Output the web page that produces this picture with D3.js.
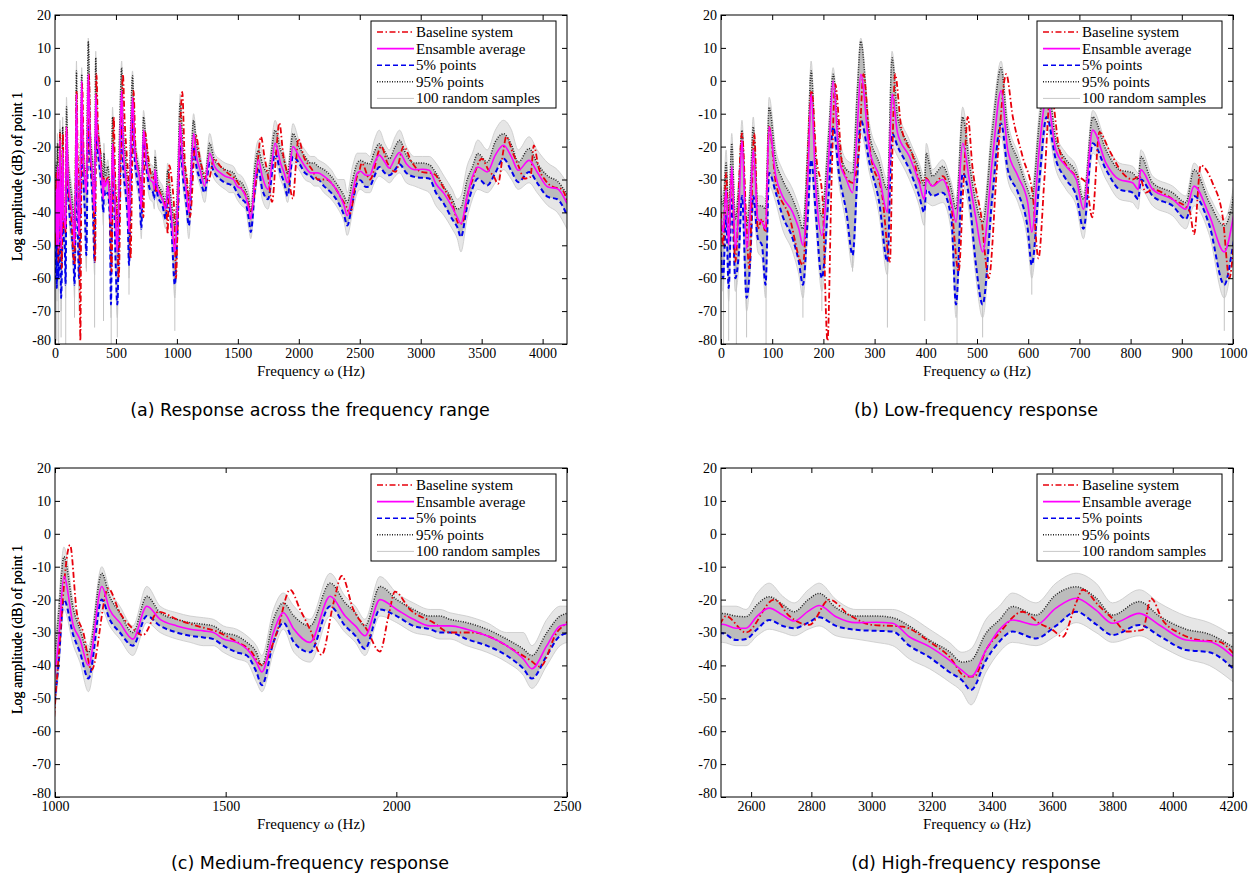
<!DOCTYPE html>
<html>
<head>
<meta charset="utf-8">
<script src="https://cdn.jsdelivr.net/npm/d3@7"></script>
<style>
  body { margin: 0; background: #fff; }
  svg { display: block; }
</style>
</head>
<body>
<div id="chart"></div>
<script>
// frequency grid shared by the ensemble statistics (Hz)
const statFreq = [
  0, 4, 10, 15, 21, 28, 35, 41, 50, 57,
  63, 72, 80, 87, 94, 107, 120, 140, 152, 160,
  170, 176, 185, 197, 210, 219, 231, 245, 257, 266,
  273, 290, 309, 325, 334, 345, 368, 387, 397, 401,
  413, 433, 450, 459, 472, 485, 498, 511, 530, 547,
  560, 580, 599, 607, 622, 636, 654, 674, 694, 708,
  726, 752, 778, 804, 815, 820, 843, 882, 908, 924,
  954, 983, 1000, 1010, 1026, 1054, 1073, 1098, 1137, 1160,
  1190, 1228, 1269, 1308, 1357, 1396, 1435, 1464, 1493, 1532,
  1562, 1590, 1606, 1640, 1669, 1700, 1747, 1806, 1850, 1880,
  1908, 1952, 2001, 2050, 2099, 2128, 2157, 2206, 2265, 2323,
  2372, 2397, 2441, 2480, 2505, 2550, 2583, 2620, 2660, 2705,
  2743, 2790, 2826, 2882, 2948, 3015, 3070, 3125, 3192, 3258,
  3300, 3330, 3380, 3424, 3468, 3546, 3612, 3679, 3745, 3800,
  3889, 3955, 4044, 4121, 4200
];

// ensemble average (dB)
const meanDb = [
  -42, -46, -33, -50, -26, -51, -38, -18, -51, -40,
  -21, -42, -43, -45, -14, -29, -35, -40, -45, -50,
  -28, -4, -32, -47, -24, 0, -24, -30, -34, -15,
  2, -21, -29, -40, -4, -16, -23, -31, -36, -30,
  -32, -30, -37, -43, -19, -30, -42, -52, -24, -3,
  -21, -29, -37, -46, -20, -5, -21, -26, -30, -39,
  -15, -25, -30, -31, -33, -27, -33, -36, -39, -32,
  -41, -52, -42, -33, -13, -28, -32, -40, -16, -23,
  -27, -32, -22, -26, -28, -29, -29.5, -30, -32, -33,
  -35, -39, -42, -30, -24, -29, -33, -19, -25, -28,
  -31, -20, -23, -26, -28, -28, -28, -29, -31, -34,
  -38, -41, -34, -28, -27.5, -28.7, -28.7, -25, -22.6, -24.7,
  -26.5, -23.5, -21.8, -25.2, -27, -26.9, -27.2, -31.3, -34.3, -38.4,
  -41.5, -43.4, -35.3, -29.2, -26.2, -27.7, -22.6, -19.6, -23.2, -27.2,
  -24.2, -27.7, -32.3, -32.8, -37.3
];

// 5% points (dB)
const p5Db = [
  -52, -60, -41, -63, -36, -60, -52, -35, -66, -55,
  -35, -48, -50, -62, -28, -34, -41, -48, -55, -62,
  -40, -24, -40, -60, -35, -14, -29, -40, -53, -30,
  -12, -25, -37, -55, -16, -20, -27, -35, -40, -33,
  -35, -34, -42, -68, -28, -36, -56, -68, -35, -13,
  -27, -34, -45, -56, -30, -11, -24, -30, -35, -45,
  -19, -27, -33, -34, -36, -30, -35, -38, -42, -35,
  -44, -62, -50, -40, -20, -31, -36, -44, -20, -26,
  -30, -34, -25, -28, -30, -31, -31.5, -32, -34, -36,
  -37, -42, -46, -33, -27, -33, -36, -22, -28, -31,
  -35, -23, -25, -28, -29, -30, -30, -32, -34, -37,
  -41, -44, -37, -31, -30.2, -32.3, -32, -29, -26.2, -28,
  -28.7, -27, -25.4, -28, -29.2, -29.5, -29.7, -34, -37.5, -42,
  -44.5, -47.5, -38.4, -32.8, -29.7, -31.8, -28, -23.7, -27.5, -30.8,
  -27.7, -31, -35.3, -36, -40.9
];

// 95% points (dB)
const p95Db = [
  -35, -38, -25, -40, -19, -42, -31, -15, -44, -33,
  -14, -38, -38, -39, -8, -24, -30, -36, -41, -45,
  -18, 3, -25, -41, -17, 2, -20, -27, -28, -4,
  12, -16, -25, -33, 7, -11, -20, -27, -32, -22,
  -29, -26, -33, -39, -11, -25, -37, -43, -15, 4,
  -15, -24, -33, -36, -12, 1.5, -18, -24, -28, -36,
  -11, -21, -27, -28, -30, -23, -31, -34, -37, -27,
  -37, -44, -36, -25, -7, -23, -29, -36, -12, -19,
  -24, -30, -19, -24, -26, -27, -27.5, -28, -30, -31,
  -33, -36, -40, -26, -21, -25, -28, -15, -21, -24,
  -28, -16, -20, -23, -25, -25, -26, -27, -29, -32,
  -35, -37, -30, -25, -24.2, -25, -25.2, -21.5, -19.1, -21.5,
  -23.7, -20, -18.1, -22.5, -25, -25, -25.5, -28, -32.3, -35.8,
  -39, -38.5, -30.2, -26.2, -22.1, -24.7, -18.5, -16.1, -19.5, -24.7,
  -20.6, -25, -29, -30.5, -34.5
];

// highest and lowest of the 100 random samples on the same grid (dB)
const sampleHighDb = [
  -32, -35, -21, -37, -16, -39, -28, -12, -41, -30,
  -11, -35, -35, -36, -5, -21, -27, -33, -38, -42,
  -15, 6, -22, -38, -14, 4, -17, -24, -25, -1,
  13, -13, -22, -30, 9, -8, -18, -25, -29, -19,
  -27, -24, -31, -36, -8, -22, -34, -40, -12, 6,
  -12, -22, -31, -33, -9, 3, -16, -22, -26, -34,
  -9, -19, -25, -26, -28, -21, -29, -32, -35, -25,
  -35, -42, -33, -22, -4, -21, -27, -34, -10, -17,
  -22, -28, -16, -22, -24, -25, -25.5, -26, -28, -29,
  -31, -34, -37, -23, -18, -22, -26, -12, -19, -22,
  -26, -13, -18, -21, -23, -23, -24, -25, -27, -30,
  -30, -34, -26, -22, -22, -22, -23, -18, -15, -19,
  -21, -17, -15, -20, -23, -23, -23, -25, -29, -33,
  -36, -35, -26, -22, -18, -21, -15, -12, -15, -21,
  -17, -21, -25, -27, -31
];
const sampleLowDb = [
  -56, -64, -45, -67, -40, -64, -56, -39, -70, -59,
  -39, -52, -54, -66, -32, -37, -45, -52, -59, -66,
  -44, -28, -44, -64, -39, -18, -32, -44, -57, -34,
  -16, -28, -41, -59, -20, -23, -30, -38, -44, -37,
  -38, -37, -46, -72, -32, -40, -60, -72, -39, -17,
  -30, -37, -49, -60, -34, -14, -27, -33, -38, -48,
  -22, -30, -36, -37, -39, -33, -38, -41, -45, -38,
  -47, -66, -53, -43, -23, -34, -39, -48, -23, -28,
  -32, -37, -27, -30, -32, -33, -34, -34, -36, -38,
  -39, -45, -48, -36, -29, -36, -39, -25, -30, -33,
  -37, -25, -27, -30, -31, -32, -32, -34, -36, -39,
  -43, -47, -40, -34, -33, -34, -34, -31, -29, -30,
  -31, -29, -28, -31, -32, -33, -34, -38, -41, -45,
  -48, -52, -42, -36, -33, -34, -31, -27, -30, -33,
  -31, -34, -38, -40, -45
];

// thin downward sample spikes at the resonance dips: [Hz, from dB, to dB]
const sampleSpikes = [
  [5, -56, -80], [15, -62, -79], [30, -58, -80], [50, -64, -78], [88, -58, -80],
  [160, -60, -72], [197, -58, -70], [257, -50, -58], [325, -52, -75], [398, -40, -73],
  [461, -62, -80], [511, -64, -78], [607, -56, -65], [983, -60, -76]
];

// baseline system (Hz, dB)
const baseFreq = [
  0, 4, 10, 15, 21, 28, 41, 50, 55, 65,
  72, 80, 87, 94, 107, 133, 160, 177, 186, 198,
  208, 216, 223, 238, 257, 270, 278, 292, 315, 330,
  335, 340, 352, 375, 390, 400, 413, 433, 450, 464,
  474, 482, 491, 508, 523, 540, 557, 570, 589, 609,
  620, 632, 644, 661, 687, 713, 725, 739, 758, 784,
  804, 817, 830, 843, 882, 915, 924, 937, 960, 980,
  993, 1003, 1044, 1064, 1083, 1107, 1156, 1190, 1230, 1257,
  1303, 1357, 1415, 1474, 1532, 1571, 1606, 1650, 1689, 1718,
  1747, 1781, 1816, 1840, 1874, 1913, 1952, 1977, 1996, 2040,
  2109, 2157, 2226, 2284, 2343, 2392, 2421, 2470, 2499, 2516,
  2583, 2677, 2727, 2793, 2860, 2926, 3004, 3103, 3192, 3258,
  3313, 3341, 3380, 3424, 3501, 3557, 3601, 3634, 3679, 3701,
  3756, 3811, 3845, 3900, 3928, 3966, 4022, 4088, 4154, 4200
];
const baseDb = [
  -40, -50, -28, -48, -28, -55, -16, -45, -57, -16,
  -45, -42, -46, -14, -31, -41, -56, -3, -23, -35,
  -79, -30, -1, -27, -31, -20, 2, -22, -35, -55,
  -20, 2, -14, -23, -31, -29.5, -32, -29, -38, -58,
  -30, -11, -26, -41, -60, -24, 2, -11, -23, -35,
  -54, -29, -3, -21, -28, -31, -41.5, -15.6, -21, -28,
  -30, -29, -34, -33, -36, -39.5, -46.6, -25.7, -31, -41.5,
  -60, -47.5, -3.4, -24, -30, -41.4, -16.6, -24, -29, -30.8,
  -23.7, -26, -28, -29.7, -32.8, -35.3, -39.9, -30, -17, -23,
  -29, -36.8, -21, -12.8, -23, -29, -35.8, -25, -17.6, -23,
  -27, -30, -30, -31.8, -35.3, -38.4, -40.4, -30, -27, -25,
  -30, -20, -25, -27.7, -20, -24.7, -27.7, -28.2, -32.8, -37.3,
  -43.4, -43.4, -35.3, -30.2, -23.7, -27.2, -29.2, -31.3, -21, -17,
  -22, -26.7, -29.7, -29.2, -19.6, -26.2, -30.2, -32.3, -32.8, -36.3
];

const yTicks = [20, 10, 0, -10, -20, -30, -40, -50, -60, -70, -80];
const legendLabels = ["Baseline system", "Ensamble average", "5% points", "95% points", "100 random samples"];

const panels = [
  { left: 55,  top: 15,  domain: [0, 4200],    ticks: [0, 500, 1000, 1500, 2000, 2500, 3000, 3500, 4000],
    caption: "(a) Response across the frequency range" },
  { left: 721, top: 15,  domain: [0, 1000],    ticks: [0, 100, 200, 300, 400, 500, 600, 700, 800, 900, 1000],
    caption: "(b) Low-frequency response" },
  { left: 55,  top: 468, domain: [1000, 2500], ticks: [1000, 1500, 2000, 2500],
    caption: "(c) Medium-frequency response" },
  { left: 721, top: 468, domain: [2500, 4200], ticks: [2600, 2800, 3000, 3200, 3400, 3600, 3800, 4000, 4200],
    caption: "(d) High-frequency response" }
];

const W = 1258, H = 876;
const pw = 512, ph = 329;
const serif = "'Liberation Serif', 'Times New Roman', serif";

const svg = d3.select("#chart").append("svg")
  .attr("width", W)
  .attr("height", H);

const stats = statFreq.map((f, i) => ({
  f: f, mean: meanDb[i], p5: p5Db[i], p95: p95Db[i], hi: sampleHighDb[i], lo: sampleLowDb[i]
}));
const base = baseFreq.map((f, i) => ({ f: f, v: baseDb[i] }));

// line styles, same order as the legend
const styles = [
  { color: "#e8000b", width: 1.8, dash: "6,2.5,1.5,2.5" },
  { color: "#ff00ff", width: 1.6, dash: null },
  { color: "#0000ee", width: 2,   dash: "5,3" },
  { color: "#222222", width: 1.5, dash: "1,1.5" },
  { color: "#c8c8c8", width: 0.8, dash: null }
];

panels.forEach(function(p, k) {

  var x = d3.scaleLinear().domain(p.domain).range([0, pw]);
  var y = d3.scaleLinear().domain([-80, 20]).range([ph, 0]);

  var g = svg.append("g").attr("transform", "translate(" + p.left + "," + p.top + ")");

  g.append("clipPath").attr("id", "clip" + k)
    .append("rect").attr("width", pw).attr("height", ph);

  var plot = g.append("g").attr("clip-path", "url(#clip" + k + ")");

  // spread of the random samples: faint outer region, darker 5-95% band
  plot.append("path")
    .datum(stats)
    .attr("fill", "#e6e6e6")
    .attr("d", d3.area().curve(d3.curveMonotoneX)
      .x(d => x(d.f)).y0(d => y(d.lo)).y1(d => y(d.hi)));

  plot.append("path")
    .datum(stats)
    .attr("fill", "#bcbcbc")
    .attr("d", d3.area().curve(d3.curveMonotoneX)
      .x(d => x(d.f)).y0(d => y(d.p5)).y1(d => y(d.p95)));

  ["hi", "lo"].forEach(function(key) {
    plot.append("path")
      .datum(stats)
      .attr("fill", "none")
      .attr("stroke", styles[4].color)
      .attr("stroke-width", styles[4].width)
      .attr("d", d3.line().curve(d3.curveMonotoneX).x(d => x(d.f)).y(d => y(d[key])));
  });

  plot.selectAll("line.spike")
    .data(sampleSpikes)
    .enter()
    .append("line")
    .attr("class", "spike")
    .attr("x1", d => x(d[0])).attr("x2", d => x(d[0]))
    .attr("y1", d => y(d[1])).attr("y2", d => y(d[2]))
    .attr("stroke", "#c4c4c4")
    .attr("stroke-width", 1);

  function drawLine(data, acc, st) {
    plot.append("path")
      .datum(data)
      .attr("fill", "none")
      .attr("stroke", st.color)
      .attr("stroke-width", st.width)
      .attr("stroke-dasharray", st.dash)
      .attr("stroke-linejoin", "round")
      .attr("d", d3.line().curve(d3.curveMonotoneX).x(d => x(d.f)).y(acc));
  }

  drawLine(stats, d => y(d.p95), styles[3]);
  drawLine(stats, d => y(d.p5), styles[2]);
  drawLine(base, d => y(d.v), styles[0]);
  drawLine(stats, d => y(d.mean), styles[1]);

  // axes, matlab style ticks pointing inwards on all four sides
  var fmt = d => String(d);
  g.append("g").attr("transform", "translate(0," + ph + ")")
    .call(d3.axisBottom(x).tickValues(p.ticks).tickFormat(fmt).tickSizeInner(-5).tickSizeOuter(0).tickPadding(4));
  g.append("g")
    .call(d3.axisTop(x).tickValues(p.ticks).tickFormat("").tickSizeInner(-5).tickSizeOuter(0));
  var yAxis = g.append("g")
    .call(d3.axisLeft(y).tickValues(yTicks).tickFormat(fmt).tickSizeInner(-5).tickSizeOuter(0).tickPadding(4));
  g.append("g").attr("transform", "translate(" + pw + ",0)")
    .call(d3.axisRight(y).tickValues(yTicks).tickFormat("").tickSizeInner(-5).tickSizeOuter(0));

  g.selectAll(".domain").remove();
  g.selectAll(".tick line").attr("stroke", "#000");
  g.selectAll(".tick text")
    .attr("font-family", serif)
    .attr("font-size", "14px")
    .attr("fill", "#000");
  // lift the lowest y label a little so it clears the first x label
  yAxis.selectAll(".tick text").filter(d => d == -80).attr("dy", "0.05em");

  g.append("rect")
    .attr("width", pw).attr("height", ph)
    .attr("fill", "none").attr("stroke", "#000").attr("stroke-width", 1);

  // axis labels
  g.append("text")
    .attr("x", pw / 2).attr("y", ph + 32)
    .attr("text-anchor", "middle")
    .attr("font-family", serif).attr("font-size", "15px")
    .text("Frequency \u03C9 (Hz)");

  g.append("text")
    .attr("transform", "translate(" + (-p.left + 22) + "," + (ph / 2 - 3) + ") rotate(-90)")
    .attr("text-anchor", "middle")
    .attr("font-family", serif).attr("font-size", "14px")
    .text("Log amplitude (dB) of point 1");

  // legend
  var lg = g.append("g").attr("transform", "translate(" + (pw - 196) + ",6)");
  lg.append("rect")
    .attr("width", 185).attr("height", 87)
    .attr("fill", "#fff").attr("stroke", "#000").attr("stroke-width", 1);

  legendLabels.forEach(function(label, i) {
    var ly = 11 + i * 16.6;
    lg.append("line")
      .attr("x1", 6).attr("x2", 43).attr("y1", ly).attr("y2", ly)
      .attr("stroke", styles[i].color)
      .attr("stroke-width", i == 4 ? 1 : Math.min(styles[i].width, 1.6))
      .attr("stroke-dasharray", styles[i].dash);
    lg.append("text")
      .attr("x", 45).attr("y", ly + 5)
      .attr("font-family", serif).attr("font-size", "15px")
      .text(label);
  });

  // caption under the panel
  svg.append("text")
    .attr("x", p.left + pw / 2 - 1)
    .attr("y", p.top + ph + 72)
    .attr("text-anchor", "middle")
    .attr("font-family", "'DejaVu Sans', sans-serif")
    .attr("font-size", "17.5px")
    .text(p.caption);
});
</script>
</body>
</html>
